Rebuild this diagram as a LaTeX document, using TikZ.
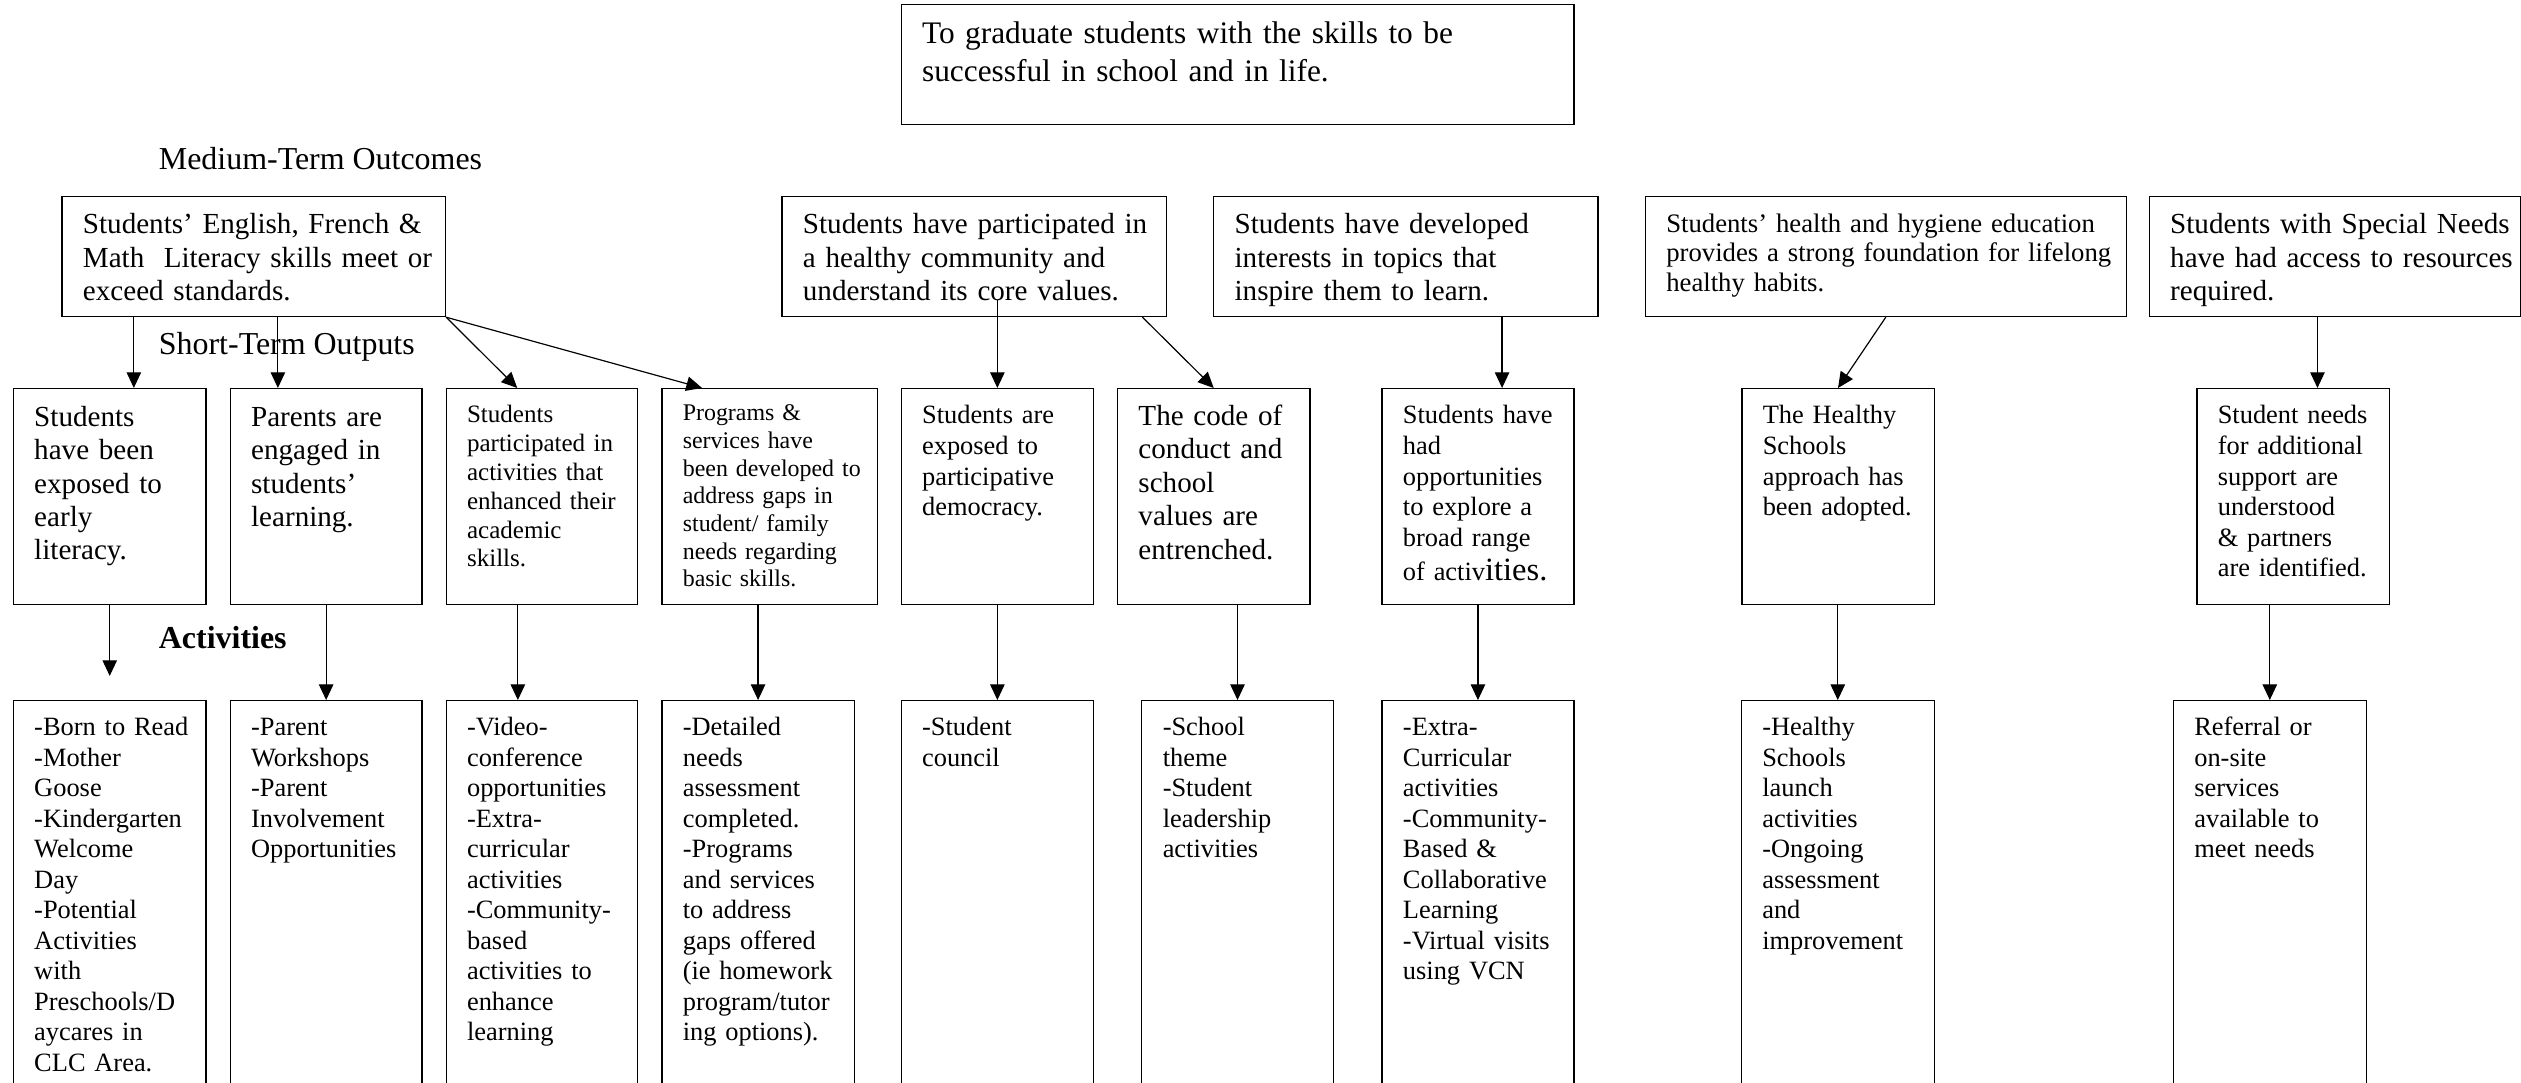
\documentclass[tikz,border=0pt]{standalone}
\usepackage{fontspec}
\setmainfont{Liberation Serif}
\usepackage{tikz}
\usetikzlibrary{arrows.meta, calc}

\begin{document}
\begin{tikzpicture}[
  x=0.2mm, y=-0.2mm,
  bx/.style   ={draw, line width=0.45pt, anchor=north west, align=left, inner sep=0pt,
                execute at begin node={\leftskip=2.6mm}},
  fTop/.style ={font=\fontsize{11.1}{13.3}\selectfont},
  fL/.style   ={font=\fontsize{10.3}{11.85}\selectfont},
  fM/.style   ={font=\fontsize{9.35}{10.8}\selectfont},
  fS/.style   ={font=\fontsize{8.86}{10.2}\selectfont},
  fXS/.style  ={font=\fontsize{8.46}{9.8}\selectfont},
  mid/.style  ={bx, text height=4.62mm, text depth=10.3mm},
  short/.style={bx, text height=4.4mm, text depth=22.48mm},
  act/.style  ={bx, fM, text height=4.36mm, text depth=48.56mm},
  head/.style ={anchor=base west, inner sep=0pt, font=\fontsize{11.3}{13}\selectfont},
  arr/.style  ={-{Triangle[length=1.95mm,width=1.8mm]}, line width=0.42pt}
]
\useasboundingbox (0,0) rectangle (1568,673);

\node[bx, fTop, text width=83.68mm, text height=4.9mm, text depth=10.04mm] (goal) at (560.1,2.4)
  {To graduate students with the skills to be\\successful in school and in life.};

% medium-term outcomes
\node[head] (medL) at (98.5,105.3) {Medium-Term Outcomes};
\node[mid, fL, text width=47.7mm] (m1) at (38.2,121.9)
  {Students' English, French \&\\Math\ \ Literacy skills meet or\\exceed standards.};
\node[mid, fL, text width=47.8mm] (m2) at (486,121.9)
  {Students have participated in\\a healthy community and\\understand its core values.};
\node[mid, fL, text width=47.8mm] (m3) at (754.5,121.9)
  {Students have developed\\interests in topics that\\inspire them to learn.};
\node[mid, font=\fontsize{9.45}{10.6}\selectfont, text width=59.8mm, text height=4.4mm, text depth=10.52mm] (m4) at (1023,121.9)
  {Students' health and hygiene education\\provides a strong foundation for lifelong\\healthy habits.};
\node[mid, fL, text width=46.2mm] (m5) at (1336.4,121.9)
  {Students with Special Needs\\have had access to resources\\required.};

% short-term outputs
\node[head] (shortL) at (98.5,220.2) {Short-Term Outputs};
\node[short, fL, text width=23.98mm, text height=4.66mm, text depth=22.22mm] (s1) at (7.9,241.3)
  {Students\\have been\\exposed to\\early\\literacy.};
\node[short, fL, text width=23.86mm, text height=4.66mm, text depth=22.22mm] (s2) at (142.8,241.3)
  {Parents are\\engaged in\\students'\\learning.};
\node[short, fS, text width=23.84mm, text height=4.26mm, text depth=22.62mm] (s3) at (277.1,241.3)
  {Students\\participated in\\activities that\\enhanced their\\academic\\skills.};
\node[short, fXS, text width=26.86mm, text height=4.0mm, text depth=22.88mm] (s4) at (411.3,241.3)
  {Programs \&\\services have\\been developed to\\address gaps in\\student/ family\\needs regarding\\basic skills.};
\node[short, fM, text width=23.94mm] (s5) at (560.1,241.3)
  {Students are\\exposed to\\participative\\democracy.};
\node[short, fL, text width=23.92mm, text height=4.54mm, text depth=22.34mm] (s6) at (694.7,241.3)
  {The code of\\conduct and\\school\\values are\\entrenched.};
\node[short, fM, text width=23.86mm] (s7) at (859.2,241.3)
  {Students have\\had\\opportunities\\to explore a\\broad range\\[1.3pt]of activ{\fontsize{11.5}{10.8}\selectfont ities.}};
\node[short, fM, text width=23.92mm] (s8) at (1083,241.3)
  {The Healthy\\Schools\\approach has\\been adopted.};
\node[short, fM, text width=24mm] (s9) at (1366,241.3)
  {Student needs\\for additional\\support are\\understood\\\& partners\\are identified.};

% activities
\node[head, font=\fontsize{11.3}{13}\selectfont\bfseries] (actL) at (98.5,403.2) {Activities};
\node[act, text width=23.98mm] (a1) at (7.9,435.4)
  {-Born to Read\\-Mother\\Goose\\-Kindergarten\\Welcome\\Day\\-Potential\\Activities\\with\\Preschools/D\\aycares in\\CLC Area.};
\node[act, text width=23.86mm] (a2) at (142.8,435.4)
  {-Parent\\Workshops\\-Parent\\Involvement\\Opportunities};
\node[act, text width=23.84mm] (a3) at (277.1,435.4)
  {-Video-\\conference\\opportunities\\-Extra-\\curricular\\activities\\-Community-\\based\\activities to\\enhance\\learning};
\node[act, text width=23.92mm] (a4) at (411.3,435.4)
  {-Detailed\\needs\\assessment\\completed.\\-Programs\\and services\\to address\\gaps offered\\(ie homework\\program/tutor\\ing options).};
\node[act, text width=23.94mm] (a5) at (560.1,435.4) {-Student\\council};
\node[act, text width=23.8mm] (a6) at (709.8,435.4)
  {-School\\theme\\-Student\\leadership\\activities};
\node[act, text width=23.86mm] (a7) at (859.2,435.4)
  {-Extra-\\Curricular\\activities\\-Community-\\Based \&\\Collaborative\\Learning\\-Virtual visits\\using VCN};
\node[act, text width=23.98mm] (a8) at (1082.7,435.4)
  {-Healthy\\Schools\\launch\\activities\\-Ongoing\\assessment\\and\\improvement};
\node[act, text width=23.98mm] (a9) at (1351.4,435.4)
  {Referral or\\on-site\\services\\available to\\meet needs};

% outcomes to outputs
\coordinate (t1) at ([xshift=3mm]s1.north);
\coordinate (t2) at ([xshift=-6mm]s2.north);
\coordinate (t7) at ([xshift=3mm]s7.north);
\coordinate (t9) at ([xshift=3mm]s9.north);
\draw[arr] (m1.south -| t1) -- (t1);
\draw[arr] (m1.south -| t2) -- (t2);
\draw[arr] (m1.south east) -- ([xshift=-3.08mm]s3.north);
\draw[arr] (m1.south east) -- ([xshift=-8.44mm]s4.north);
\draw[arr] ([yshift=2.1mm]m2.south -| s5.north) -- (s5.north);
\draw[arr] ([xshift=20.94mm]m2.south) -- (s6.north);
\draw[arr] (m3.south -| t7) -- (t7);
\draw[arr] (m4.south) -- (s8.north);
\draw[arr] (m5.south -| t9) -- (t9);

% outputs to activities
\coordinate (t3) at ([xshift=-3mm]a3.north);
\draw[arr] (s1.south) -- ([yshift=3mm]a1.north);
\draw[arr] (s2.south -| a2.north) -- (a2.north);
\draw[arr] (s3.south -| t3) -- (t3);
\draw[arr] (s4.south -| a4.north) -- (a4.north);
\draw[arr] (s5.south -| a5.north) -- (a5.north);
\draw[arr] (s6.south -| a6.north) -- (a6.north);
\draw[arr] (s7.south -| a7.north) -- (a7.north);
\draw[arr] (s8.south -| a8.north) -- (a8.north);
\draw[arr] (s9.south -| a9.north) -- (a9.north);
\end{tikzpicture}
\end{document}
